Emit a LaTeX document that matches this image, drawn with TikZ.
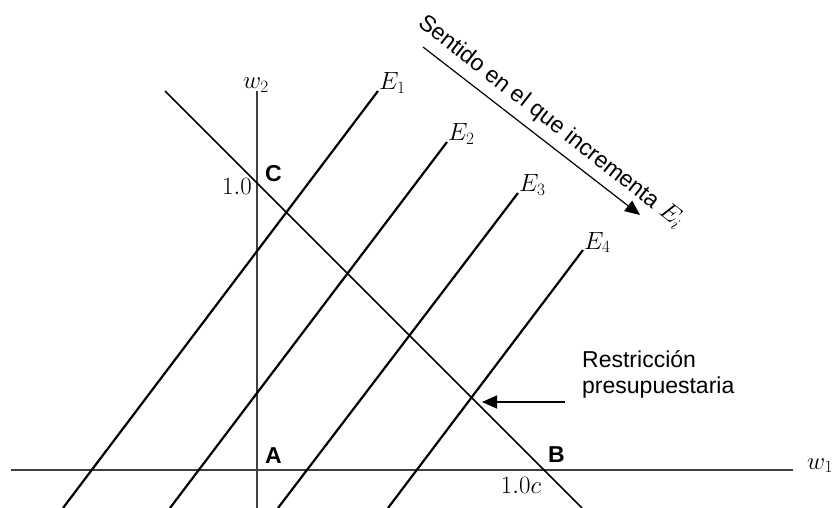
\documentclass[tikz,border=0pt]{standalone}
\usepackage{fontspec}
\setmainfont{Liberation Sans}
\usetikzlibrary{arrows.meta}
\begin{document}
\begin{tikzpicture}[x=1pt,y=-1pt,
  ax/.style={line width=1.4pt, draw=black!75},
  eline/.style={line width=2.2pt, draw=black},
  budget/.style={line width=1.5pt, draw=black},
  lbl/.style={inner sep=0pt, font=\fontsize{23}{26}\selectfont},
  mlbl/.style={inner sep=0pt, font=\fontsize{24.5}{28}\selectfont},
  ptl/.style={inner sep=0pt, font=\fontsize{23}{26}\selectfont\bfseries},
  pointer/.style={line width=1.2pt, draw=black, -{Triangle[length=15pt,width=13pt]}}
]
\useasboundingbox (0,0) rectangle (836,508);
% axes
\coordinate (h0) at (11,470); \coordinate (h1) at (793,470);
\coordinate (v0) at (257,91); \coordinate (v1) at (257,508);
\draw[ax] (h0) -- (h1);
\draw[ax] (v0) -- (v1);
% budget line
\coordinate (b0) at (165,91); \coordinate (b1) at (582,508);
\draw[budget] (b0) -- (b1);
% indifference lines
\coordinate (e1a) at (63,508);  \coordinate (e1b) at (378,91);
\coordinate (e2a) at (170,508); \coordinate (e2b) at (447,142);
\coordinate (e3a) at (278,508); \coordinate (e3b) at (518,193);
\coordinate (e4a) at (388,508); \coordinate (e4b) at (583,250);
\draw[eline] (e1a) -- (e1b);
\draw[eline] (e2a) -- (e2b);
\draw[eline] (e3a) -- (e3b);
\draw[eline] (e4a) -- (e4b);
\node[mlbl, anchor=base west] (E1) at ([xshift=1pt,yshift=1pt]e1b) {$E_1$};
\node[mlbl, anchor=base west] (E2) at ([xshift=1pt,yshift=1pt]e2b) {$E_2$};
\node[mlbl, anchor=base west] (E3) at ([xshift=1pt,yshift=1pt]e3b) {$E_3$};
\node[mlbl, anchor=base west] (E4) at ([xshift=1pt,yshift=1pt]e4b) {$E_4$};
% axis labels
\node[mlbl, anchor=base] (w2) at (256,89) {$w_2$};
\node[mlbl, anchor=base west] (w1) at (807,469) {$w_1$};
\node[mlbl, anchor=base east] (one) at (252,195) {$1.0$};
\node[mlbl, anchor=base] (onec) at (521,493) {$1.0c$};
% points
\node[ptl, anchor=base west] (C) at (265,182) {C};
\node[ptl, anchor=base west] (A) at (265,463) {A};
\node[ptl, anchor=base west] (B) at (548,462) {B};
% budget annotation
\node[lbl, align=left, anchor=base west] (rtext) at (582,393) {Restricción\\presupuestaria};
\coordinate (rtip) at (482,402);
\draw[pointer] ([xshift=-17pt]rtext.west |- rtip) -- (rtip);
% direction arrow
\coordinate (s0) at (423,47); \coordinate (s1) at (640,215);
\draw[pointer] (s0) -- (s1);
\node[lbl, rotate=-38] (sent) at (551,122) {Sentido en el que incrementa $E_i$};
\end{tikzpicture}
\end{document}
